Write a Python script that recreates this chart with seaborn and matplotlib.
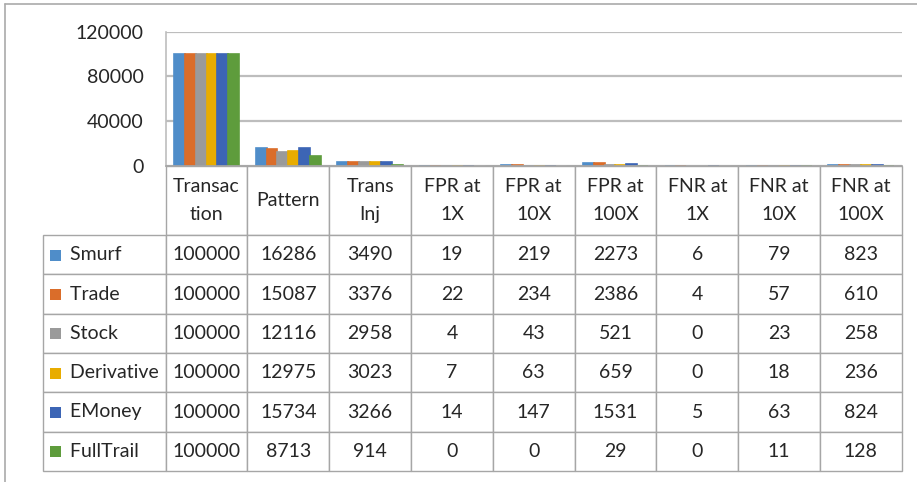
import matplotlib
matplotlib.use("Agg")
import pandas as pd
import seaborn as sns
import matplotlib.pyplot as plt
from matplotlib.table import Table
from matplotlib.patches import Rectangle
from matplotlib.lines import Line2D

categories = ["Transaction", "Pattern", "Trans Inj", "FPR at 1X", "FPR at 10X",
              "FPR at 100X", "FNR at 1X", "FNR at 10X", "FNR at 100X"]
header_labels = ["Transac\ntion", "Pattern", "Trans\nInj", "FPR at\n1X", "FPR at\n10X",
                 "FPR at\n100X", "FNR at\n1X", "FNR at\n10X", "FNR at\n100X"]
series = ["Smurf", "Trade", "Stock", "Derivative", "EMoney", "FullTrail"]

smurf = [100000, 16286, 3490, 19, 219, 2273, 6, 79, 823]
trade = [100000, 15087, 3376, 22, 234, 2386, 4, 57, 610]
stock = [100000, 12116, 2958, 4, 43, 521, 0, 23, 258]
derivative = [100000, 12975, 3023, 7, 63, 659, 0, 18, 236]
emoney = [100000, 15734, 3266, 14, 147, 1531, 5, 63, 824]
fulltrail = [100000, 8713, 914, 0, 0, 29, 0, 11, 128]

colors = ['#4F8DC9', '#DA6D2A', '#9A9A9A', '#E8AC00', '#3C65B5', '#5E9C3C']

values = [smurf, trade, stock, derivative, emoney, fulltrail]
rows = []
for name, vals in zip(series, values):
    for cat, v in zip(categories, vals):
        rows.append({"Category": cat, "Series": name, "Value": v})
df = pd.DataFrame(rows)

sns.set_style("white")
plt.rcParams['font.family'] = ['Lato', 'DejaVu Sans']
fs = 14
grid_c = '#BDBDBD'
line_c = '#A6A6A6'
text_c = '#262626'

W, H = 917, 482
fig = plt.figure(figsize=(W / 100, H / 100), dpi=100)

x0, x1 = 165.7, 901.7
y_top, y_zero = 31.7, 165.7
ax = fig.add_axes([x0 / W, 1 - y_zero / H, (x1 - x0) / W, (y_zero - y_top) / H])

sns.barplot(data=df, x="Category", y="Value", hue="Series", hue_order=series,
            order=categories, palette=colors, width=0.8, saturation=1,
            legend=False, ax=ax)

# tiny (non-zero) bars still show as a thin line, like in Excel
for p in ax.patches:
    if p.get_height() > 0:
        p.set_edgecolor(p.get_facecolor())
        p.set_linewidth(1.2)

ax.set_ylim(0, 120000)
ax.set_yticks([0, 40000, 80000, 120000])
ax.set_yticklabels(["0", "40000", "80000", "120000"], fontsize=fs, color=text_c)
ax.set_xticks([])
ax.set_xlabel("")
ax.set_ylabel("")
ax.yaxis.grid(True, color=grid_c, linewidth=1.6)
ax.set_axisbelow(True)
for s in ["top", "right"]:
    ax.spines[s].set_visible(False)
ax.spines["left"].set_color(grid_c)
ax.spines["left"].set_linewidth(1.2)
ax.spines["bottom"].set_color(line_c)
ax.spines["bottom"].set_linewidth(1.2)
ax.tick_params(axis='y', length=0, pad=16)

# data table under the plot
t_left, t_right = 43.0, 901.7
t_top, t_bottom = 166.0, 471.0
tax = fig.add_axes([t_left / W, 1 - t_bottom / H, (t_right - t_left) / W, (t_bottom - t_top) / H])
tax.axis('off')
tab = Table(tax, bbox=[0, 0, 1, 1])

label_w = x0 - t_left
col_w = (x1 - x0) / len(categories)
head_h = 69.0
row_h = (t_bottom - t_top - head_h) / len(series)

for j, lab in enumerate(header_labels):
    c = tab.add_cell(0, j + 1, col_w, head_h, text=lab, loc='center')
    c.get_text().set_linespacing(1.75)

for i, (name, vals) in enumerate(zip(series, values)):
    c = tab.add_cell(i + 1, 0, label_w, row_h, text="     " + name, loc='left')
    c.PAD = 0.02
    for j, v in enumerate(vals):
        tab.add_cell(i + 1, j + 1, col_w, row_h, text=str(v), loc='center')

for cell in tab.get_celld().values():
    cell.set_edgecolor(line_c)
    cell.set_linewidth(1.0)
    cell.get_text().set_fontsize(fs)
    cell.get_text().set_color(text_c)
tab.auto_set_font_size(False)
tax.add_table(tab)

# legend keys in the row label cells
for i, col in enumerate(colors):
    yc = t_top + head_h + row_h * (i + 0.5)
    fig.patches.append(Rectangle((50 / W, 1 - (yc + 6) / H), 11 / W, 11 / H,
                                 transform=fig.transFigure, facecolor=col,
                                 edgecolor='none'))

# chart frame (only top and left edges show)
fig.lines.append(Line2D([5 / W, 1], [1 - 4 / H, 1 - 4 / H], transform=fig.transFigure,
                        color='#AAAAAA', linewidth=1.2))
fig.lines.append(Line2D([5 / W, 5 / W], [0, 1 - 4 / H], transform=fig.transFigure,
                        color='#AAAAAA', linewidth=1.2))

fig.savefig("out.png", dpi=100)
